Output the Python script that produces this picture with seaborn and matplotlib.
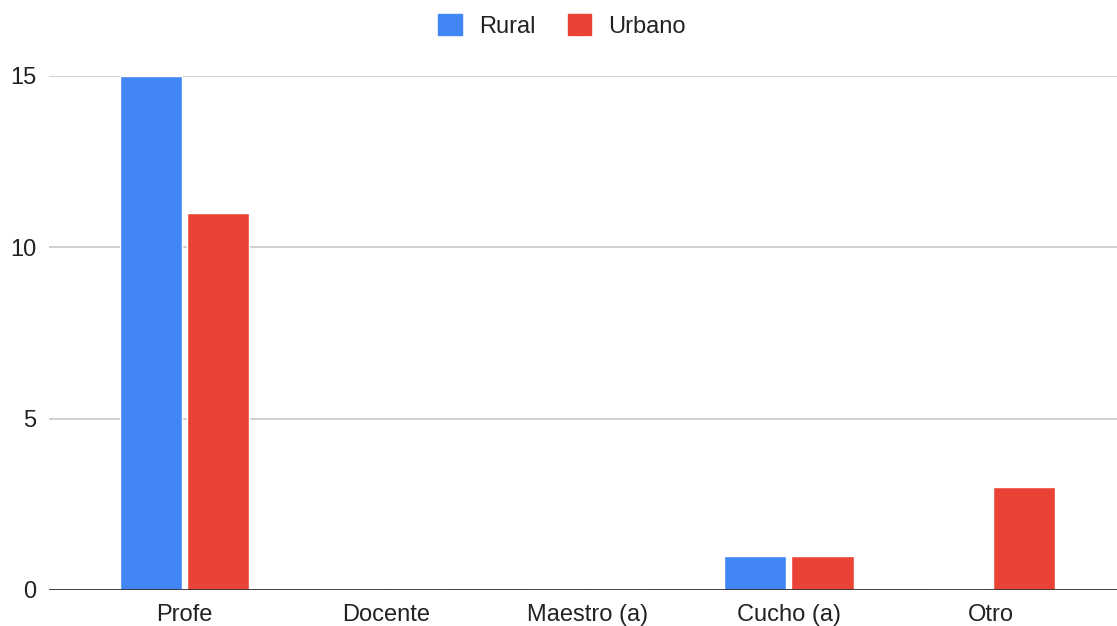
import matplotlib
matplotlib.use("Agg")
import matplotlib.pyplot as plt
import seaborn as sns
import pandas as pd
from matplotlib.patches import Patch

categories = ["Profe", "Docente", "Maestro (a)", "Cucho (a)", "Otro"]
rural = [15, 0, 0, 1, 0]
urbano = [11, 0, 0, 1, 3]
series = ["Rural", "Urbano"]
colors = ["#4285F4", "#EA4335"]
yticks = [0, 5, 10, 15]

df = pd.DataFrame({
    "cat": categories * 2,
    "val": rural + urbano,
    "serie": [series[0]] * len(categories) + [series[1]] * len(categories),
})

sns.set_theme(style="white")
plt.rcParams['font.family'] = ['Liberation Sans', 'DejaVu Sans']

W, H = 1117, 626
fig = plt.figure(figsize=(W / 100, H / 100), dpi=100)
ax = fig.add_axes([49 / W, (H - 590) / H, (W - 49) / W, (590 - 76) / H])

sns.barplot(data=df, x="cat", y="val", hue="serie", palette=colors,
            order=categories, hue_order=series, width=0.666, gap=0.075,
            saturation=1, ax=ax, legend=False)

ax.set_xlim(-0.672, 4.628)
ax.set_ylim(0, 15)
ax.set_yticks(yticks)
ax.set_yticklabels([str(v) for v in yticks])
ax.set_xlabel("")
ax.set_ylabel("")
for s in ax.spines.values():
    s.set_visible(False)
ax.grid(axis="y", color="#cccccc", linewidth=1.3)
ax.grid(axis="x", visible=False)
ax.set_axisbelow(True)
ax.axhline(0, color="#333333", linewidth=2.0, zorder=5)
ax.tick_params(axis="both", length=0, labelsize=17, colors="#222222")
ax.tick_params(axis="y", pad=9)
ax.tick_params(axis="x", pad=10)

handles = [Patch(facecolor=c, edgecolor=c, label=s) for s, c in zip(series, colors)]
fig.legend(handles=handles, loc="center", bbox_to_anchor=(562 / W, 1 - 26 / H),
           ncol=2, frameon=False, fontsize=17, handlelength=1.0, handleheight=1.0,
           handletextpad=0.72, columnspacing=1.36, labelcolor="#222222")

fig.savefig("out.png", dpi=100)
